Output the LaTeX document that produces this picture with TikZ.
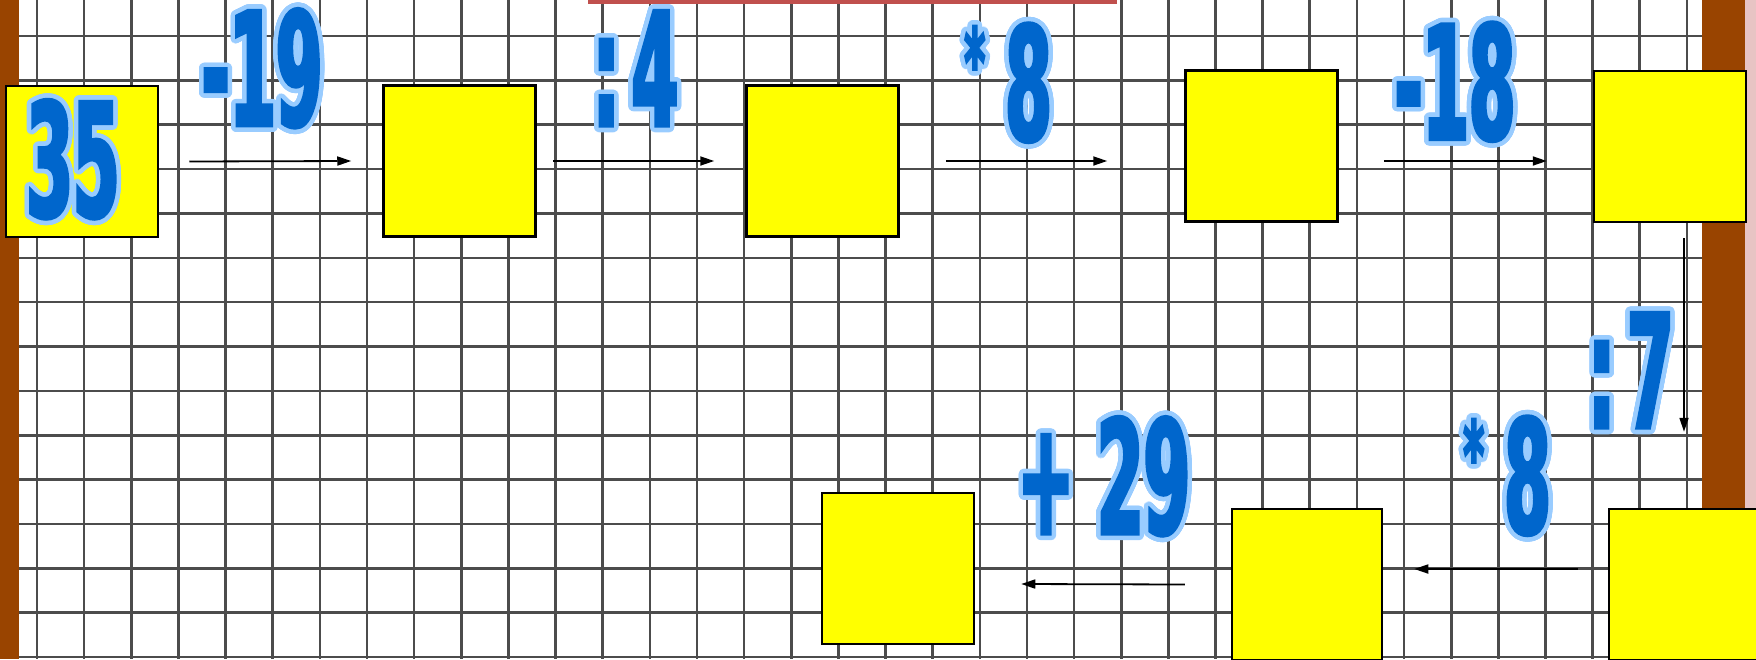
\documentclass[tikz,border=0pt]{standalone}
\usepackage{fontspec}
\usepackage{contour}
\usetikzlibrary{arrows.meta, calc}

\definecolor{cellyellow}{RGB}{255,255,0}
\definecolor{numblue}{RGB}{0,102,204}
\definecolor{numedge}{RGB}{153,204,255}
\definecolor{barbrown}{RGB}{153,68,0}
\definecolor{edgepink}{RGB}{232,196,196}
\definecolor{topred}{RGB}{192,80,77}

\newfontfamily\numfont{DejaVu Sans Condensed}[FakeStretch=0.47, FakeBold=2.2]
\contourlength{4.5pt}
\contournumber{32}
\newcommand{\opnum}[1]{\contour{numedge}{#1}}
\newcommand{\timesmark}{\raisebox{44pt}{\fontsize{95}{95}\selectfont *}\kern20pt}

\begin{document}
\begin{tikzpicture}[
    x=1pt, y=-1pt,
    >={Triangle[length=14pt, width=9pt]},
    gridline/.style={draw=black!70, line width=2.6pt},
    cell/.style={rectangle, draw, line width=2.5pt, fill=cellyellow, minimum width=152pt, minimum height=151pt, inner sep=0pt},
    num/.style={font=\numfont\bfseries\fontsize{158}{160}\selectfont, text=numblue, inner sep=0pt},
    arrow/.style={->, line width=1.8pt}
]
\useasboundingbox (0,0) rectangle (1756,659);
\clip (0,0) rectangle (1756,659);

% 0. Squared paper and frame
\fill[white] (0,0) rectangle (1756,659);
\foreach \i in {0,...,36}
    \draw[gridline] ({37+47.14*\i},0) -- ({37+47.14*\i},659);
\foreach \j in {0,...,14}
    \draw[gridline] (0,{36+44.36*\j}) -- (1756,{36+44.36*\j});
\fill[barbrown] (0,0) rectangle (19,659);
\fill[barbrown] (1702,0) rectangle (1745,659);
\fill[edgepink] (1745,0) rectangle (1756,659);
\fill[topred] (588,0) rectangle (1117,3.5);

% 1. Chain of cells (top row)
\node[cell, num] (start) at (82,161.5) {\kern-18pt\opnum{35}};
\node[cell] (cellA) at (459.5,161) {};
\node[cell] (cellB) at (822.5,161) {};
\node[cell] (cellC) at (1261.5,146) {};
\node[cell] (cellD) at (1670,146.5) {};

% 2. Chain of cells (bottom row)
\node[cell] (cellE) at (1685,584.5) {};
\node[cell, minimum width=150pt] (cellF) at (1307,584.5) {};
\node[cell] (cellG) at (898,568.5) {};

% 3. Operations
\node[num] (opA) at (262,70.5) {\opnum{-19}};
\node[num] (opB) at (635.5,70.5) {\opnum{:\kern12pt4}};
\node[num] (opC) at (1008,85) {\opnum{\timesmark8}};
\node[num] (opD) at (1455,84) {\opnum{-18}};
\node[num] (opE) at (1631,372.5) {\opnum{:\kern12pt7}};
\node[num] (opF) at (1507,478) {\opnum{\timesmark8}};
\node[num] (opG) at (1104,478.5) {\opnum{+ 29}};

% Paths
\draw[arrow] ($(start.east)+(30,0)$) -- ($(cellA.west)+(-31,0)$);
\draw[arrow] ($(cellA.east)+(16,0)$) -- ($(cellB.west)+(-31,0)$);
\draw[arrow] ($(cellB.east)+(46,0)$) -- ($(cellC.west |- cellB.east)+(-77,0)$);
\draw[arrow] ($(cellC.east |- cellB.east)+(45,0)$) -- ($(cellD.west |- cellB.east)+(-46,0)$);
\draw[arrow] ($(cellD.south)+(14,15)$) -- ($(cellD.south |- cellE.north)+(14,-76)$);
\draw[arrow] ($(cellE.west)+(-30,-15.5)$) -- ($(cellF.east)+(31,-15.5)$);
\draw[arrow] ($(cellF.west)+(-46,0)$) -- ($(cellG.east)+(46,15.5)$);

\end{tikzpicture}
\end{document}
